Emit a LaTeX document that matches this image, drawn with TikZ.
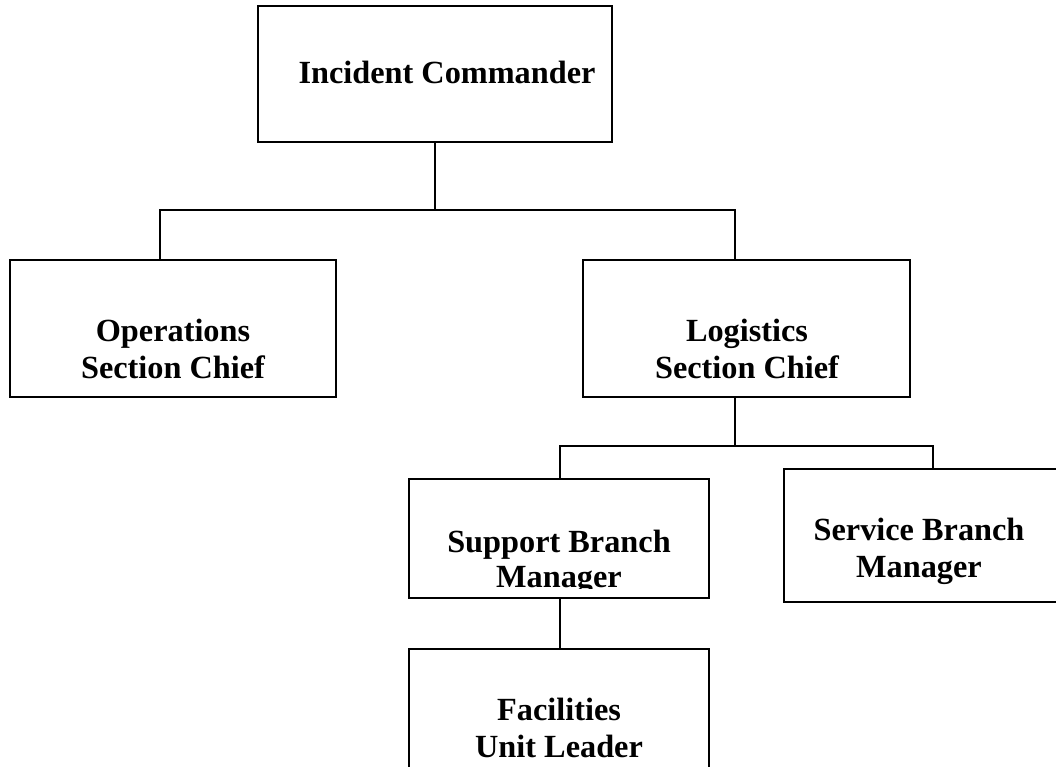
\documentclass[tikz,border=0pt]{standalone}
\usepackage{fontspec}
\setmainfont{Liberation Serif}
\begin{document}
\begin{tikzpicture}[x=1pt,y=-1pt,
  box/.style={draw=black,line width=1.8pt,inner sep=0pt,minimum width=0pt},
  lbl/.style={anchor=base,inner sep=0pt,font=\fontsize{32.3}{37}\selectfont\bfseries},
  conn/.style={draw=black,line width=1.6pt}]
\clip (0,0) rectangle (1056,767);
\fill[white] (0,0) rectangle (1056,767);
% boxes
\path[box] (258,6) rectangle (612,142) node[pos=0.5,inner sep=0pt] (ic) {};
\path[box] (10,260) rectangle (336,397) node[pos=0.5,inner sep=0pt] (ops) {};
\path[box] (583,260) rectangle (910,397) node[pos=0.5,inner sep=0pt] (log) {};
\path[box] (409,479) rectangle (709,598) node[pos=0.5,inner sep=0pt] (sup) {};
\path[box] (784,469) rectangle (1070,602) node[pos=0.5,inner sep=0pt] (ser) {};
\path[box] (409,649) rectangle (709,800) node[pos=0.5,inner sep=0pt] (fac) {};
% anchor coordinates
\coordinate (icB) at (435,142);
\coordinate (opsT) at (160,260);
\coordinate (logT) at (735,260);
\coordinate (logB) at (735,397);
\coordinate (supT) at (560,479);
\coordinate (supB) at (560,598);
\coordinate (serT) at (933,469);
\coordinate (facT) at (560,649);
\coordinate (j1) at (435,210);
\coordinate (j2) at (735,446);
% connectors
\draw[conn] (icB) -- (j1);
\draw[conn] (opsT) |- (j1) -| (logT);
\draw[conn] (logB) -- (j2);
\draw[conn] (supT) |- (j2) -| (serT);
\draw[conn] (supB) -- (facT);
% labels
\node[lbl] (tic) at (447,84) {Incident Commander};
\node[lbl] (tops1) at (173,341) {Operations};
\node[lbl] (tops2) at (173,378) {Section Chief};
\node[lbl] (tlog1) at (747,341) {Logistics};
\node[lbl] (tlog2) at (747,378) {Section Chief};
\node[lbl] (tser1) at (919,540) {Service Branch};
\node[lbl] (tser2) at (919,577) {Manager};
\node[lbl] (tfac1) at (559,720) {Facilities};
\node[lbl] (tfac2) at (559,757) {Unit Leader};
\begin{scope}
\clip (410,480) rectangle (708,588);
\node[lbl] (tsup1) at (559,552) {Support Branch};
\node[lbl] (tsup2) at (559,587) {Manager};
\end{scope}
\end{tikzpicture}
\end{document}
